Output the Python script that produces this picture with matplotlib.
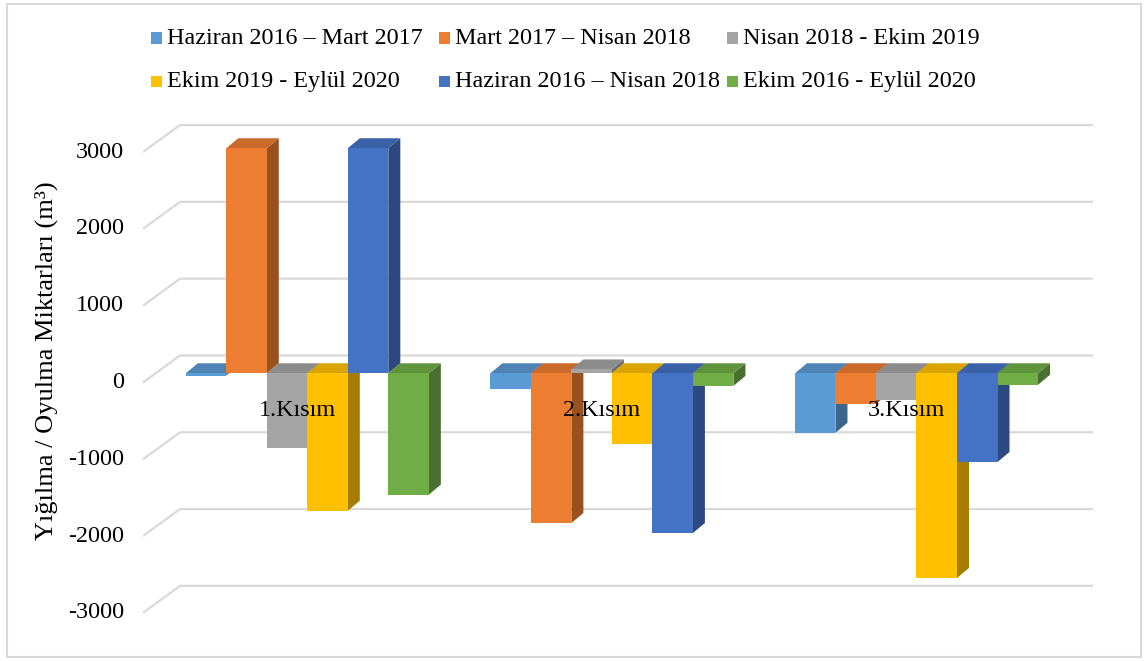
import matplotlib
matplotlib.use("Agg")
import matplotlib.pyplot as plt
import numpy as np
from matplotlib.patches import Polygon, Rectangle

# ---- data -------------------------------------------------------------
categories = ["1.Kısım", "2.Kısım", "3.Kısım"]
series_names = [
    "Haziran 2016 – Mart 2017",
    "Mart 2017 – Nisan 2018",
    "Nisan 2018 - Ekim 2019",
    "Ekim 2019 - Eylül 2020",
    "Haziran 2016 – Nisan 2018",
    "Ekim 2016 - Eylül 2020",
]
haz16_mar17 = [-30, -205, -775]
mar17_nis18 = [2930, -1950, -400]
nis18_eki19 = [-970, 50, -350]
eki19_eyl20 = [-1790, -920, -2665]
haz16_nis18 = [2930, -2080, -1155]
eki16_eyl20 = [-1580, -165, -150]
y_ticks = [3000, 2000, 1000, 0, -1000, -2000, -3000]

series_values = [haz16_mar17, mar17_nis18, nis18_eki19,
                 eki19_eyl20, haz16_nis18, eki16_eyl20]
colors = ["#5B9BD5", "#ED7D31", "#A5A5A5", "#FFC000", "#4472C4", "#70AD47"]

FONT = "Liberation Serif"
FS = 17.4
W, H, DPI = 1147, 661, 100


def shade(hex_color, f):
    c = np.array(matplotlib.colors.to_rgb(hex_color))
    return tuple(c * f)


fig = plt.figure(figsize=(W / DPI, H / DPI), dpi=DPI)

# chart-area border
fig.patches.append(Rectangle((7 / W, 1 - 657 / H), (1141 - 7) / W, (657 - 4) / H,
                             transform=fig.transFigure, fill=False,
                             edgecolor="#D9D9D9", linewidth=1.5))

# axes = the plane of the bars' front faces
ax_l, ax_r, ax_t, ax_b = 143, 1093, 110, 640
ax = fig.add_axes([ax_l / W, 1 - ax_b / H, (ax_r - ax_l) / W, (ax_b - ax_t) / H])
ax.set_xlim(-0.5394, 2.5795)
ax.set_ylim(-3473, 3428)
ax.axis("off")

px_x = (ax_r - ax_l) / (ax.get_xlim()[1] - ax.get_xlim()[0])   # px per x unit
px_y = (ax_b - ax_t) / (ax.get_ylim()[1] - ax.get_ylim()[0])   # px per y unit

# depth offsets (pixels -> data)
front_dy = -9.2 / px_y           # wall front plane relative to bars
wall_dx, wall_dy = 37 / px_x, 27 / px_y
bar_dx, bar_dy = 12 / px_x, 10 / px_y

x0, x1 = ax.get_xlim()

# gridlines on the back wall with the diagonal floor-edge stubs
for t in y_ticks:
    yf = t + front_dy
    ax.plot([x0, x0 + wall_dx, x1], [yf, yf + wall_dy, yf + wall_dy],
            color="#D9D9D9", linewidth=1.6, zorder=1, solid_capstyle="butt")
    ax.text(x0 - 19 / px_x, yf, str(t), ha="right", va="center",
            fontsize=FS, family=FONT, color="#000000")

# 3D-looking bars
n = len(series_values)
width = 0.133
for ci in range(len(categories)):
    for si in range(n):
        v = series_values[si][ci]
        left = ci + (si - n / 2) * width
        right = left + width
        lo, hi = min(0, v), max(0, v)
        col = colors[si]
        z = 2 + si * 0.1
        side = Polygon([(right, lo), (right + bar_dx, lo + bar_dy),
                        (right + bar_dx, hi + bar_dy), (right, hi)],
                       closed=True, facecolor=shade(col, 0.65), edgecolor="none", zorder=z)
        top = Polygon([(left, hi), (left + bar_dx, hi + bar_dy),
                       (right + bar_dx, hi + bar_dy), (right, hi)],
                      closed=True, facecolor=shade(col, 0.85), edgecolor="none", zorder=z + 0.01)
        ax.add_patch(side)
        ax.add_patch(top)
        ax.bar(left, v, width=width, align="edge", color=col, zorder=z + 0.02,
               linewidth=0)

# category labels on the front plane
for ci, cat in enumerate(categories):
    ax.text(ci - 10 / px_x, front_dy - 28.5 / px_y, cat, ha="center", va="center",
            fontsize=FS, family=FONT, zorder=10)

# y-axis title
fig.text(46 / W, 1 - 361 / H, "Yığılma / Oyulma Miktarları (m³)", rotation=90,
         ha="center", va="center", fontsize=19, family=FONT)

# legend, laid out like Excel: 2 rows x 3 columns
leg_x = [151, 439, 727]
leg_y = [38, 81.5]
sq = 11
for i, (name, col) in enumerate(zip(series_names, colors)):
    r, c = divmod(i, 3)
    xm, ym = leg_x[c], leg_y[r]
    fig.patches.append(Rectangle((xm / W, 1 - (ym + sq / 2) / H), sq / W, sq / H,
                                 transform=fig.transFigure, facecolor=col,
                                 edgecolor="none"))
    fig.text((xm + sq + 5) / W, 1 - ym / H, name, ha="left", va="center",
             fontsize=FS, family=FONT)

fig.savefig("out.png", dpi=DPI)
